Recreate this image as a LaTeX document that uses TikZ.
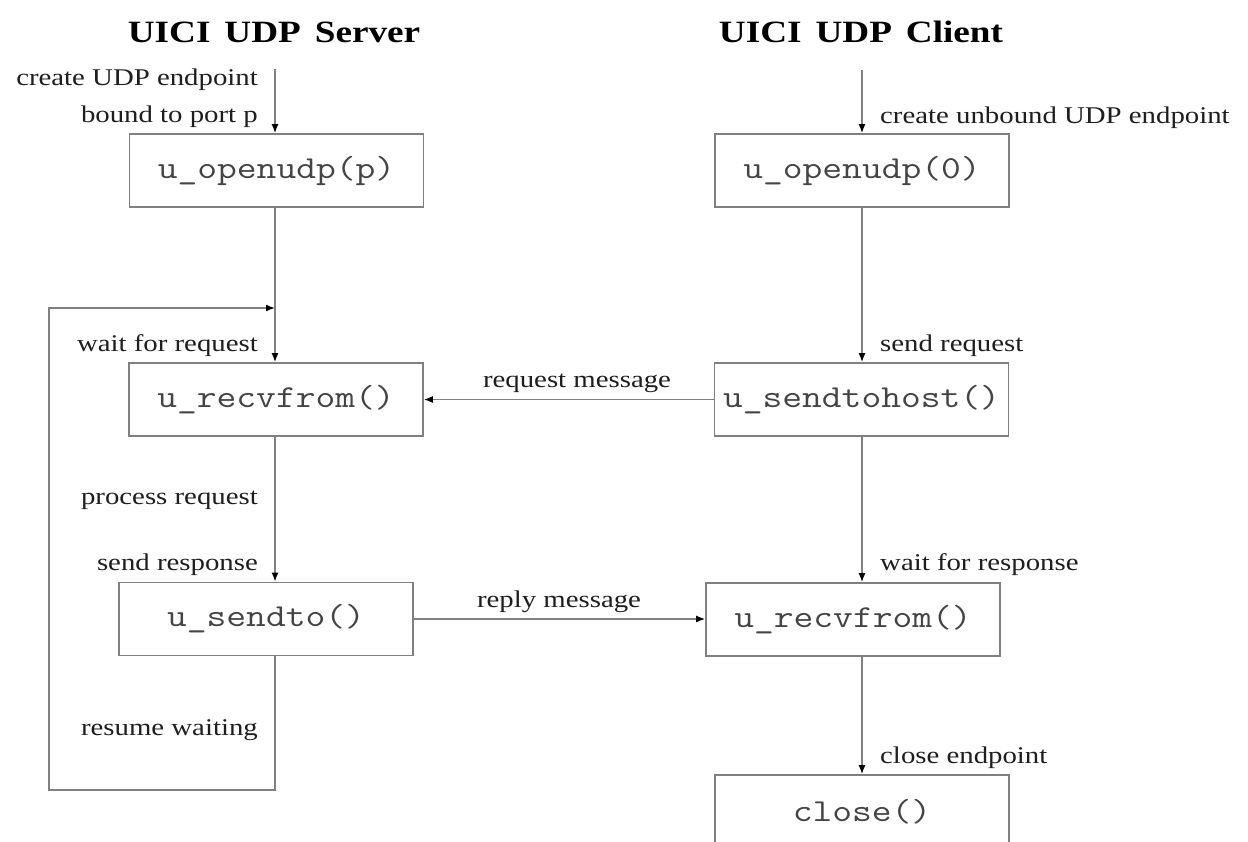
\documentclass[tikz,border=0pt]{standalone}
\usepackage{fontspec}
\newfontfamily\labfont{Liberation Serif}[FakeStretch=1.2]
\setmonofont{Latin Modern Mono}[FakeStretch=1.2]
\usetikzlibrary{arrows.meta}
\definecolor{linegray}{HTML}{808080}
\definecolor{codegray}{HTML}{444444}
\definecolor{textdark}{HTML}{1E1E1E}
\tikzset{
  fbox/.style={draw=linegray, line width=1.6pt, minimum width=294pt, minimum height=73pt, inner sep=0pt,
    font=\ttfamily\fontsize{32}{36}\selectfont, text=codegray},
  conn/.style={draw=linegray, line width=1.6pt},
  arr/.style={conn, -{Latex[length=9pt,width=7pt,black]}},
  lab/.style={inner sep=0pt, font=\labfont\fontsize{24}{28}\selectfont, text=textdark},
  ttl/.style={inner sep=0pt, font=\labfont\bfseries\fontsize{31}{35}\selectfont, text=black},
}
\begin{document}
\begin{tikzpicture}[x=1pt, y=-1pt]
\useasboundingbox (0,0) rectangle (1248,842);
\clip (0,0) rectangle (1248,842);
\fill[white] (0,0) rectangle (1248,842);

% titles
\node[ttl] (t1) at (274,32) {UICI\hspace{0.45em}UDP\hspace{0.45em}Server};
\node[ttl] (t2) at (861,32) {UICI\hspace{0.45em}UDP\hspace{0.45em}Client};

% boxes
\node[fbox] (srvopen) at (276.5,170.5) {u\_openudp(p)};
\node[fbox] (srvrecv) at (276,399.5) {u\_recvfrom()};
\node[fbox] (srvsend) at (266,619) {u\_sendto()};
\node[fbox] (cliopen) at (862,170.5) {u\_openudp(0)};
\node[fbox] (clisend) at (861.5,399.5) {u\_sendtohost()};
\node[fbox] (clirecv) at (853,619.5) {u\_recvfrom()};
\node[fbox] (cliclose) at (862,811.5) {close()};

% free ends
\coordinate (srvstart) at (275,69);
\coordinate (clistart) at (862,70);
\coordinate (loopjoin) at (275,308);
\coordinate (loopbl) at (49,790);

% server column
\draw[arr] (srvstart) -- (srvstart |- srvopen.north);
\draw[arr] (srvstart |- srvopen.south) -- (srvstart |- srvrecv.north);
\draw[arr] (srvstart |- srvrecv.south) -- (srvstart |- srvsend.north);
\draw[arr] (srvstart |- srvsend.south) -- (srvstart |- loopbl) -- (loopbl) -- (loopbl |- loopjoin) -- (loopjoin);

% client column
\draw[arr] (clistart) -- (clistart |- cliopen.north);
\draw[arr] (clistart |- cliopen.south) -- (clistart |- clisend.north);
\draw[arr] (clistart |- clisend.south) -- (clistart |- clirecv.north);
\draw[arr] (clistart |- clirecv.south) -- (clistart |- cliclose.north);

% messages
\draw[arr] (clisend.west) -- (clisend.west -| srvrecv.east);
\draw[arr] (srvsend.east) -- (srvsend.east -| clirecv.west);

% labels
\node[lab, anchor=east] (l1) at (258,80) {create UDP endpoint};
\node[lab, anchor=east] (l2) at (258,117) {bound to port p};
\node[lab, anchor=west] (l3) at (880,118) {create unbound UDP endpoint};
\node[lab, anchor=east] (l4) at (258,346) {wait for request};
\node[lab, anchor=west] (l5) at (880,346) {send request};
\node[lab] (l6) at (577,383) {request message};
\node[lab, anchor=east] (l7) at (258,500) {process request};
\node[lab, anchor=east] (l8) at (258,565) {send response};
\node[lab, anchor=west] (l9) at (880,565) {wait for response};
\node[lab] (l10) at (559,602) {reply message};
\node[lab, anchor=east] (l11) at (258,730) {resume waiting};
\node[lab, anchor=west] (l12) at (880,758) {close endpoint};
\end{tikzpicture}
\end{document}
